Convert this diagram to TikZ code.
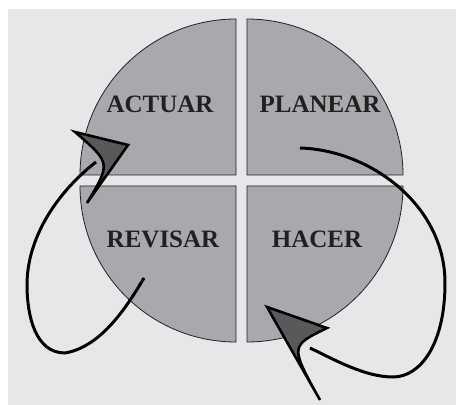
\documentclass[tikz,border=0pt]{standalone}
\usepackage{fontspec}
\setmainfont{Liberation Serif}
\usetikzlibrary{positioning}
\definecolor{bgGray}{RGB}{230,231,232}
\definecolor{quadGray}{RGB}{167,169,172}
\definecolor{headGray}{RGB}{88,89,91}
\definecolor{inkBlack}{RGB}{35,31,32}
\tikzstyle{quad} = [fill=quadGray, draw=inkBlack, line width=0.8pt]
\tikzstyle{quadtext} = [font=\fontsize{25}{29}\selectfont\bfseries, text=inkBlack, inner sep=0pt]
\tikzstyle{cycleline} = [line width=3pt, draw=black]
\tikzstyle{tiphead} = [fill=headGray, draw=black, line width=2.6pt, line join=miter, miter limit=20]

\begin{document}
\begin{tikzpicture}[x=1pt, y=1pt]

  \useasboundingbox (0,0) rectangle (456,405);
  \fill[bgGray] (8,0) rectangle (456,396);

  % four quarters of the circle
  \draw[quad] (236,230) -- (80,230) arc[start angle=180, end angle=90, radius=156] -- cycle;
  \draw[quad] (247,230) -- (247,386) arc[start angle=90, end angle=0, radius=156] -- cycle;
  \draw[quad] (236,219) -- (236,63) arc[start angle=270, end angle=180, radius=156] -- cycle;
  \draw[quad] (247,219) -- (403,219) arc[start angle=0, end angle=-90, radius=156] -- cycle;

  \node[quadtext] (actuar)  at (160,301) {ACTUAR};
  \node[quadtext] (planear) at (320,301) {PLANEAR};
  \node[quadtext] (revisar) at (163,166) {REVISAR};
  \node[quadtext] (hacer)   at (317,166) {HACER};

  \coordinate (revisarOut) at (144,127);
  \coordinate (actuarIn)   at (96,243);
  \coordinate (planearOut) at (300,257);
  \coordinate (hacerIn)    at (310,57);

  \draw[cycleline] (revisarOut) .. controls (125,95) and (100,58) .. (65,52)
    .. controls (35,52) and (27,90) .. (27,120)
    .. controls (27,170) and (60,215) .. (actuarIn);
  \draw[cycleline] (planearOut) .. controls (370,255) and (445,200) .. (445,122)
    .. controls (445,60) and (420,28) .. (393,28)
    .. controls (365,28) and (335,45) .. (hacerIn);

  % arrow heads
  \draw[tiphead] (128,260) -- (75,273) .. controls (111,242) .. (87,202) -- cycle;
  \draw[tiphead] (267,98) -- (327,77) .. controls (290,59) .. (320,5) -- cycle;

\end{tikzpicture}
\end{document}
